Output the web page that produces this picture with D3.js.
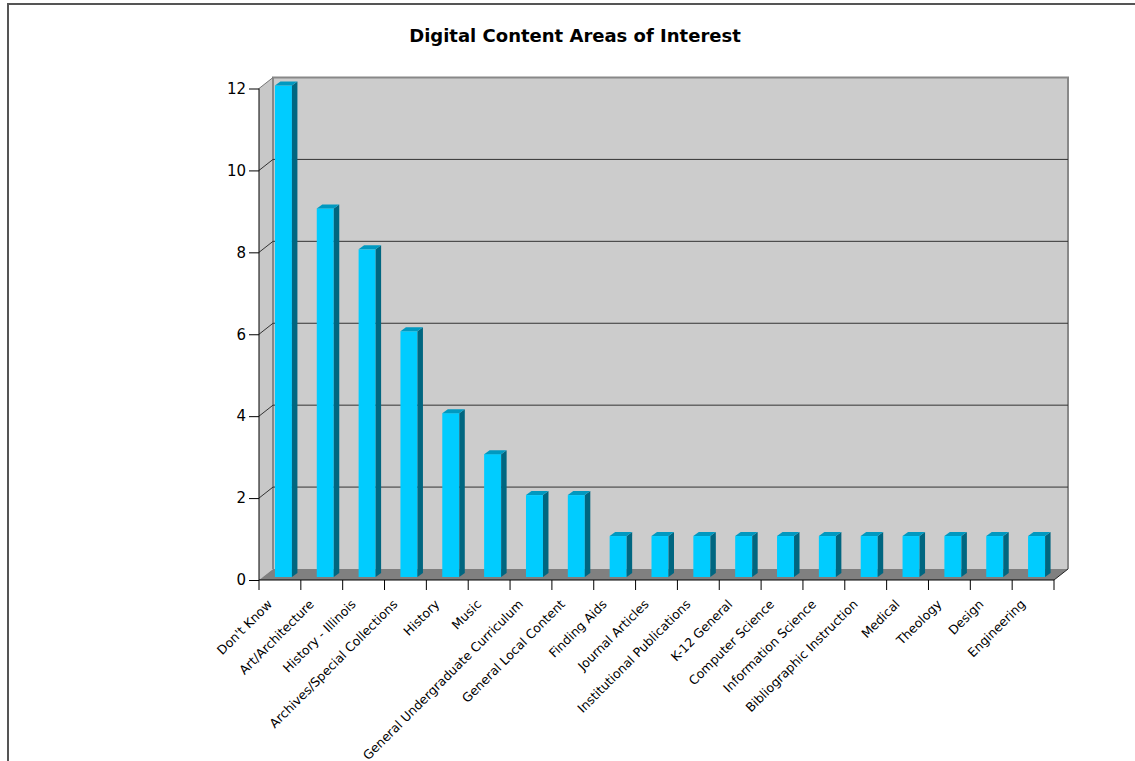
<!DOCTYPE html>
<html>
<head>
<meta charset="utf-8">
<script src="https://cdn.jsdelivr.net/npm/d3@7"></script>
<style>
  html, body { margin: 0; background: #fff; overflow: hidden; }
  svg { display: block; }
  text { font-family: "DejaVu Sans", Verdana, sans-serif; }
</style>
</head>
<body>
<div id="chart"></div>
<script>
const categories = ["Don't Know", "Art/Architecture", "History - Illinois", "Archives/Special Collections",
    "History", "Music", "General Undergraduate Curriculum", "General Local Content", "Finding Aids",
    "Journal Articles", "Institutional Publications", "K-12 General", "Computer Science",
    "Information Science", "Bibliographic Instruction", "Medical", "Theology", "Design", "Engineering"];
const counts = [12, 9, 8, 6, 4, 3, 2, 2, 1, 1, 1, 1, 1, 1, 1, 1, 1, 1, 1];
const yTicks = [0, 2, 4, 6, 8, 10, 12];
const title = "Digital Content Areas of Interest";

const WIDTH = 1135, HEIGHT = 761;
const LEFT = 259, RIGHT = 1054, BOTTOM = 580, TOP = 88.5;
const DX = 14, DY = -11;          // wall depth
const BAR_W = 17, BDX = 5.5, BDY = -4, ZX = 3.5, ZY = -3;

const svg = d3.select("#chart").append("svg")
    .attr("width", WIDTH)
    .attr("height", HEIGHT);

// outer frame (only left and top edges are in view)
svg.append("path")
    .attr("d", `M8,${HEIGHT + 5} L8,4 L${WIDTH + 5},4`)
    .attr("fill", "none")
    .attr("stroke", "#555")
    .attr("stroke-width", 2);

svg.append("text")
    .attr("x", 575)
    .attr("y", 42)
    .attr("text-anchor", "middle")
    .attr("font-size", 18)
    .attr("font-weight", "bold")
    .text(title);

const x = d3.scaleBand()
    .domain(categories)
    .range([LEFT, RIGHT]);

const y = d3.scaleLinear()
    .domain([0, 12])
    .range([BOTTOM, TOP]);

const poly = pts => "M" + pts.map(p => p.join(",")).join("L") + "Z";

// walls
svg.append("path")
    .attr("d", poly([[LEFT, y(12)], [LEFT + DX, y(12) + DY], [LEFT + DX, y(0) + DY], [LEFT, y(0)]]))
    .attr("fill", "#c8c8c8");

svg.append("rect")
    .attr("x", LEFT + DX)
    .attr("y", y(12) + DY)
    .attr("width", RIGHT - LEFT)
    .attr("height", y(0) - y(12))
    .attr("fill", "#cccccc");

svg.append("path")
    .attr("d", poly([[LEFT, y(0)], [RIGHT, y(0)], [RIGHT + DX, y(0) + DY], [LEFT + DX, y(0) + DY]]))
    .attr("fill", "#808080");

// wall edges
svg.append("path")
    .attr("d", `M${LEFT + DX},${y(0) + DY} L${LEFT + DX},${y(12) + DY} L${RIGHT + DX},${y(12) + DY} L${RIGHT + DX},${y(0) + DY}`)
    .attr("fill", "none")
    .attr("stroke", "#888")
    .attr("stroke-width", 2);

svg.append("line")
    .attr("x1", LEFT).attr("y1", y(12))
    .attr("x2", LEFT + DX).attr("y2", y(12) + DY)
    .attr("stroke", "#777");

// grid lines
const grid = yTicks.filter(v => v > 0 && v < 12);
svg.selectAll(".grid")
    .data(grid)
    .enter().append("path")
        .attr("class", "grid")
        .attr("d", v => `M${LEFT},${y(v)} L${LEFT + DX},${y(v) + DY} L${RIGHT + DX},${y(v) + DY}`)
        .attr("fill", "none")
        .attr("stroke", "#333")
        .attr("stroke-width", 1);

svg.append("line")
    .attr("x1", RIGHT).attr("y1", y(0))
    .attr("x2", RIGHT + DX).attr("y2", y(0) + DY)
    .attr("stroke", "#222");

// bars
const bars = svg.selectAll(".bar")
    .data(categories.map((c, i) => ({c: c, v: counts[i]})))
    .enter().append("g")
        .attr("class", "bar");

const bx = d => x(d.c) + x.bandwidth() / 2 - BAR_W / 2 + ZX;

bars.append("rect")
    .attr("x", bx)
    .attr("y", d => y(d.v) + ZY)
    .attr("width", BAR_W)
    .attr("height", d => y(0) - y(d.v))
    .attr("fill", "#00ccff");

bars.append("path")
    .attr("d", d => {
        const l = bx(d) + BAR_W, t = y(d.v) + ZY, b = y(0) + ZY;
        return poly([[l, t], [l + BDX, t + BDY], [l + BDX, b + BDY], [l, b]]);
    })
    .attr("fill", "#006680");

bars.append("path")
    .attr("d", d => {
        const l = bx(d), t = y(d.v) + ZY;
        return poly([[l, t], [l + BDX, t + BDY], [l + BAR_W + BDX, t + BDY], [l + BAR_W, t]]);
    })
    .attr("fill", "#0099c0");

// axes
const yAxisCall = d3.axisLeft(y)
    .tickValues(yTicks)
    .tickSize(10)
    .tickPadding(3);

const yAxis = svg.append("g")
    .attr("transform", `translate(${LEFT}, 0)`)
    .call(yAxisCall);
yAxis.select(".domain").attr("d", `M0,${y(12)}V${y(0)}`).attr("stroke", "#000");
yAxis.attr("font-size", 15);
yAxis.selectAll("text")
    .attr("font-family", "DejaVu Sans, Verdana, sans-serif")
    .attr("fill", "#000");

const xAxis = svg.append("g")
    .attr("transform", `translate(0, ${BOTTOM})`);

xAxis.append("line")
    .attr("x1", LEFT).attr("x2", RIGHT)
    .attr("stroke", "#000");

xAxis.selectAll(".xtick")
    .data(categories.concat([null]))
    .enter().append("line")
        .attr("class", "xtick")
        .attr("x1", (d, i) => i < categories.length ? x(d) : RIGHT)
        .attr("x2", (d, i) => i < categories.length ? x(d) : RIGHT)
        .attr("y1", 0)
        .attr("y2", 10)
        .attr("stroke", "#000");

xAxis.selectAll(".xlabel")
    .data(categories)
    .enter().append("text")
        .attr("class", "xlabel")
        .attr("transform", d => `translate(${x(d) + x.bandwidth() / 2 - 7}, 25) rotate(-45)`)
        .attr("text-anchor", "end")
        .attr("font-size", 12.5)
        .attr("fill", "#000")
        .text(d => d);
</script>
</body>
</html>
